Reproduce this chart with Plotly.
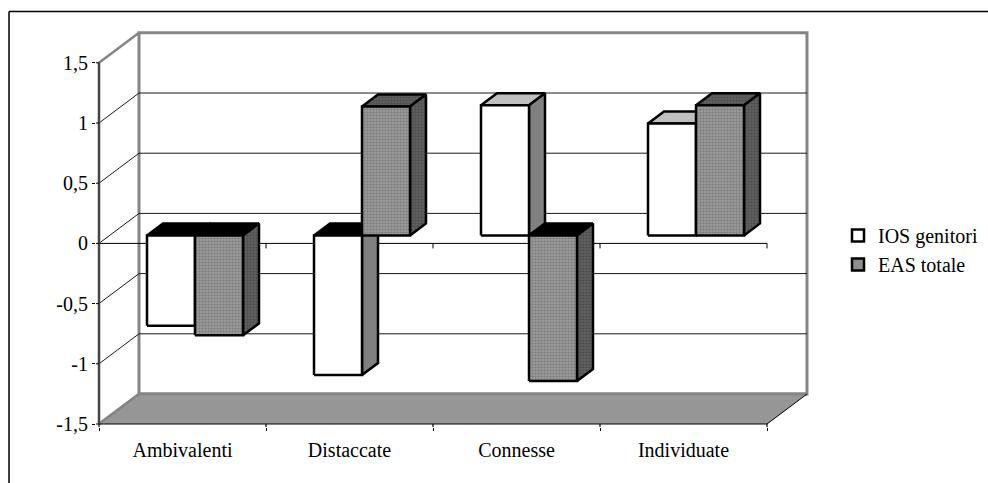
import plotly.graph_objects as go

categories = ["Ambivalenti", "Distaccate", "Connesse", "Individuate"]
ios_genitori = [-0.75, -1.16, 1.08, 0.93]
eas_totale = [-0.83, 1.07, -1.21, 1.08]
y_ticks = [-1.5, -1, -0.5, 0, 0.5, 1, 1.5]
y_tick_labels = ["-1,5", "-1", "-0,5", "0", "0,5", "1", "1,5"]

FONT = "Liberation Serif"
PX_X, PX_Y = 167.0, 120.4          # pixels per category / per unit
WALL_DX, WALL_DY = 40 / PX_X, 30 / PX_Y
BAR_W = 48 / PX_X
BAR_SHIFT_X, BAR_SHIFT_Y = 12.5 / PX_X, 8 / PX_Y
BAR_DX, BAR_DY = 16 / PX_X, 12 / PX_Y
PAD = 3                            # px of room round the drawing so edge lines are not clipped
N = len(categories)
YMIN, YMAX = y_ticks[0], y_ticks[-1]

fig = go.Figure()


def poly(xs, ys, fill=None, line=None, width=1, pattern=None, name=None):
    kw = {}
    if fill or pattern:
        kw["fill"] = "toself"
        kw["fillcolor"] = fill or "rgba(0,0,0,0)"
    if pattern:
        kw["fillpattern"] = pattern
    fig.add_trace(go.Scatter(
        x=xs, y=ys, mode="lines", showlegend=False, hoverinfo="skip", name=name,
        line=dict(color=line or "rgba(0,0,0,0)", width=width if line else 0), **kw))


def joined(polys):
    xs, ys = [], []
    for px, py in polys:
        xs += list(px) + [px[0], None]
        ys += list(py) + [py[0], None]
    return xs, ys


# back wall
poly([WALL_DX, N + WALL_DX, N + WALL_DX, WALL_DX, WALL_DX],
     [YMIN + WALL_DY, YMIN + WALL_DY, YMAX + WALL_DY, YMAX + WALL_DY, YMIN + WALL_DY],
     fill="#ffffff", line="#858585", width=3)
# gridlines on the walls
inner = y_ticks[1:-1]
gx, gy = [], []
for v in inner:
    gx += [0, WALL_DX, N + WALL_DX, None]
    gy += [v, v + WALL_DY, v + WALL_DY, None]
poly(gx, gy, line="#1a1a1a", width=1)
# left wall edges
poly([0, WALL_DX, None, 0, WALL_DX], [YMAX, YMAX + WALL_DY, None, YMIN, YMIN + WALL_DY],
     line="#858585", width=2.5)
# floor
poly([0, WALL_DX, N + WALL_DX, N, 0],
     [YMIN, YMIN + WALL_DY, YMIN + WALL_DY, YMIN, YMIN], fill="#969696")
poly([WALL_DX, N + WALL_DX], [YMIN + WALL_DY, YMIN + WALL_DY], line="#858585", width=3)
poly([N, N + WALL_DX], [YMIN, YMIN + WALL_DY], line="#000000", width=1)
poly([0, WALL_DX], [YMIN, YMIN + WALL_DY], line="#858585", width=2.5)
# category axis at the bottom, with the start of its ticks
bx, by = [0, N, None], [YMIN, YMIN, None]
for i in range(N + 1):
    bx += [i, i, None]
    by += [YMIN, YMIN - PAD / PX_Y, None]
poly(bx, by, line="#000000", width=1.2)
# zero line with its ticks
zx, zy = [0, N, None], [0, 0, None]
for i in range(N + 1):
    zx += [i, i, None]
    zy += [0, -5 / PX_Y, None]
poly(zx, zy, line="#000000", width=1)
# value axis line, with the start of its ticks
poly([0, 0], [YMIN, YMAX], line="#444444", width=2.5)
tx, ty = [], []
for v in y_ticks:
    tx += [-PAD / PX_X, 0, None]
    ty += [v, v, None]
poly(tx, ty, line="#000000", width=1)


def series_faces(values, offset, top_pos, top_neg, side_fill, front_fill,
                 side_pattern=None, front_pattern=None, top_pos_pattern=None):
    tops_p, tops_n, sides, fronts = [], [], [], []
    for i, v in enumerate(values):
        x0 = i + 0.5 + BAR_SHIFT_X + offset * BAR_W
        x1 = x0 + BAR_W
        y0 = BAR_SHIFT_Y
        y1 = y0 + v
        hi = max(y0, y1)
        lo = min(y0, y1)
        fronts.append(([x0, x1, x1, x0], [lo, lo, hi, hi]))
        sides.append(([x1, x1 + BAR_DX, x1 + BAR_DX, x1],
                      [lo, lo + BAR_DY, hi + BAR_DY, hi]))
        top = ([x0, x1, x1 + BAR_DX, x0 + BAR_DX], [hi, hi, hi + BAR_DY, hi + BAR_DY])
        (tops_p if v >= 0 else tops_n).append(top)
    if tops_p:
        poly(*joined(tops_p), fill=top_pos, line="#000000", width=2.5, pattern=top_pos_pattern)
    if tops_n:
        poly(*joined(tops_n), fill=top_neg, line="#000000", width=2.5)
    poly(*joined(sides), fill=side_fill, line="#000000", width=2.5, pattern=side_pattern)
    poly(*joined(fronts), fill=front_fill, line="#000000", width=2.5, pattern=front_pattern)


series_faces(ios_genitori, -1, "#c0c0c0", "#000000", "#808080", "#ffffff")
dark = dict(shape=".", fgcolor="#333333", bgcolor="#606060", size=3, solidity=0.4)
series_faces(
    eas_totale, 0, "#555555", "#000000", "#4d4d4d", "#8f8f8f",
    side_pattern=dark,
    front_pattern=dict(shape=".", fgcolor="#606060", bgcolor="#a0a0a0", size=3, solidity=0.5),
    top_pos_pattern=dark)

# legend entries
for name, colour in [("IOS genitori", "#ffffff"), ("EAS totale", "#8f8f8f")]:
    fig.add_trace(go.Scatter(
        x=[None], y=[None], mode="markers", name=name, hoverinfo="skip",
        marker=dict(symbol="square", size=12, color=colour,
                    line=dict(color="#000000", width=2.5))))

W, H = 988, 483
L, T, R, B = 99 - PAD, 33 - PAD, 807 + PAD, 424 + PAD
pw, ph = R - L, B - T
box_w = W - L                      # margin box runs to the right edge of the page
fig.update_layout(
    width=W, height=H, autosize=False,
    margin=dict(l=L, t=T, r=0, b=H - B, pad=0),
    paper_bgcolor="#ffffff", plot_bgcolor="#ffffff",
    font=dict(family=FONT, size=20, color="#000000"),
    xaxis=dict(
        domain=[0, pw / box_w],
        range=[-PAD / PX_X, (pw - PAD) / PX_X], showgrid=False, zeroline=False, showline=False,
        tickmode="array", tickvals=[i + 0.5 for i in range(N)], ticktext=categories,
        ticks="outside", ticklen=0, tickcolor="#000000", ticklabelstandoff=5,
        minor=dict(tickmode="array", tickvals=list(range(N + 1)), ticks="outside",
                   ticklen=3, tickcolor="#000000", tickwidth=1, showgrid=False),
        fixedrange=True),
    yaxis=dict(
        range=[YMIN - PAD / PX_Y, YMIN + (ph - PAD) / PX_Y],
        showgrid=False, zeroline=False, showline=False,
        tickmode="array", tickvals=y_ticks, ticktext=y_tick_labels,
        ticks="outside", ticklen=3, tickcolor="#000000", tickwidth=1,
        fixedrange=True),
    legend=dict(
        x=(838 - L) / box_w, y=(B - 250) / ph, xanchor="left", yanchor="middle",
        bgcolor="rgba(0,0,0,0)", borderwidth=0, itemclick=False, itemdoubleclick=False,
        font=dict(family=FONT, size=20), tracegroupgap=0),
    shapes=[
        dict(type="line", xref="paper", yref="paper",
             x0=(9 - L) / box_w, x1=(W + 5 - L) / box_w,
             y0=(B - 11.5) / ph, y1=(B - 11.5) / ph, line=dict(color="#000000", width=1.5)),
        dict(type="line", xref="paper", yref="paper",
             x0=(9 - L) / box_w, x1=(9 - L) / box_w,
             y0=(B - 11.5) / ph, y1=(B - H - 5) / ph, line=dict(color="#000000", width=1.5)),
    ],
)
fig.write_html("out.html", config=dict(displayModeBar=False),
               post_script="document.body.style.margin='0';document.body.style.overflow='hidden';")
